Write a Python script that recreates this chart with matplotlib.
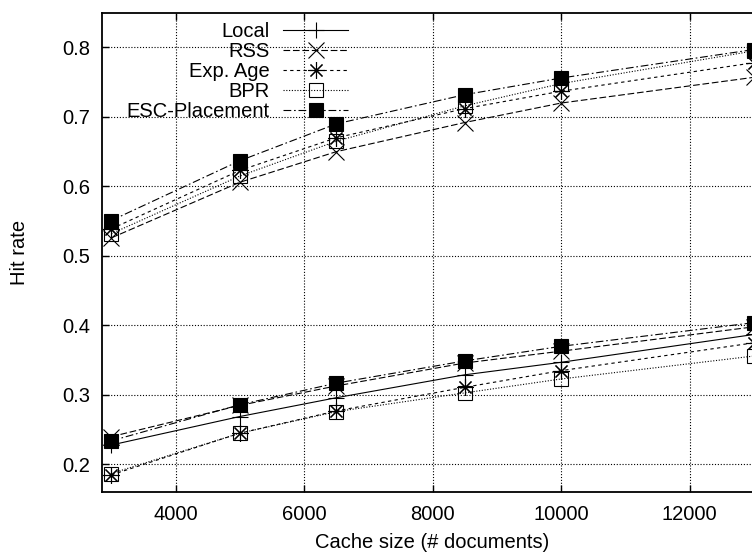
import matplotlib
matplotlib.use("Agg")
import matplotlib.pyplot as plt

plt.rcParams['font.family'] = ['Liberation Sans', 'DejaVu Sans']

# ---- data ----
cache_sizes = [3000, 5000, 6500, 8500, 10000, 13000]

# upper group
rss_hi    = [0.526, 0.606, 0.650, 0.692, 0.720, 0.757]
expage_hi = [0.539, 0.623, 0.670, 0.712, 0.737, 0.778]
bpr_hi    = [0.532, 0.615, 0.665, 0.716, 0.748, 0.795]
esc_hi    = [0.551, 0.637, 0.690, 0.732, 0.756, 0.797]

# lower group
local_lo  = [0.228, 0.269, 0.296, 0.329, 0.347, 0.387]
rss_lo    = [0.240, 0.285, 0.313, 0.346, 0.363, 0.398]
expage_lo = [0.185, 0.245, 0.277, 0.311, 0.335, 0.375]
bpr_lo    = [0.187, 0.245, 0.276, 0.303, 0.323, 0.356]
esc_lo    = [0.234, 0.286, 0.317, 0.349, 0.370, 0.404]

labels = ["Local", "RSS", "Exp. Age", "BPR", "ESC-Placement"]
x_ticks = [4000, 6000, 8000, 10000, 12000]
y_ticks = [0.2, 0.3, 0.4, 0.5, 0.6, 0.7, 0.8]

FS = 14.5
fig = plt.figure(figsize=(7.52, 5.52), dpi=100)
ax = fig.add_axes([0.1352, 0.1082, 0.880, 0.8688])

lw = 0.8
styles = {
    "Local":         dict(ls='-', marker='+', ms=12, mew=0.8, mfc='none'),
    "RSS":           dict(ls=(0, (6, 2.5)), marker='x', ms=11, mew=0.8, mfc='none'),
    "Exp. Age":      dict(ls=(0, (3, 3)), marker=(8, 2, 0), ms=12, mew=0.8, mfc='none'),
    "BPR":           dict(ls=(0, (1, 1.5)), marker='s', ms=10.5, mew=0.8, mfc='none'),
    "ESC-Placement": dict(ls=(0, (7, 2.5, 1.5, 2.5)), marker='s', ms=10.5, mew=0.8, mfc='black'),
}

hi = {"RSS": rss_hi, "Exp. Age": expage_hi, "BPR": bpr_hi, "ESC-Placement": esc_hi}
lo = {"Local": local_lo, "RSS": rss_lo, "Exp. Age": expage_lo, "BPR": bpr_lo, "ESC-Placement": esc_lo}

handles = []
for name in labels:
    st = styles[name]
    h, = ax.plot(cache_sizes, lo[name], color='black', lw=lw, mec='black', label=name, **st)
    handles.append(h)
    if name in hi:
        ax.plot(cache_sizes, hi[name], color='black', lw=lw, mec='black', **st)

ax.set_xlim(2850, 13150)
ax.set_ylim(0.16, 0.85)
ax.set_xticks(x_ticks)
ax.set_yticks(y_ticks)
ax.set_xticklabels([str(v) for v in x_ticks], fontsize=FS)
ax.set_yticklabels([f"{v:.1f}" for v in y_ticks], fontsize=FS)
ax.tick_params(direction='in', top=True, right=True, length=5, width=1.0)
ax.tick_params(axis='x', pad=9)
ax.tick_params(axis='y', pad=8)
for sp in ax.spines.values():
    sp.set_linewidth(1.3)

ax.grid(True, color='black', lw=0.8, linestyle=(0, (1, 1.6)))
ax.set_axisbelow(True)

ax.set_xlabel("Cache size (# documents)", fontsize=FS, labelpad=7)
ax.set_ylabel("Hit rate", fontsize=FS, labelpad=24)

leg = ax.legend(handles=handles, loc='upper right', bbox_to_anchor=(0.372, 0.980),
                frameon=False, markerfirst=False, fontsize=FS, handlelength=3.2,
                handletextpad=0.7, labelspacing=0.05, borderpad=0, borderaxespad=0)

fig.savefig("out.png", dpi=100)
